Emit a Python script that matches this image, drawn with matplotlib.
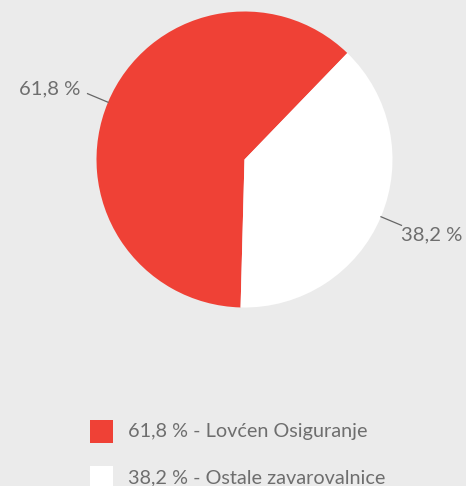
import numpy as np
import matplotlib
matplotlib.use("Agg")
import matplotlib.pyplot as plt
from matplotlib.patches import Rectangle

labels = ["Lovćen Osiguranje", "Ostale zavarovalnice"]
shares = [61.8, 38.2]
share_text = ["61,8 %", "38,2 %"]
colors = ["#ef4136", "#ffffff"]

BG = "#ebebeb"
TXT = "#6e6e6e"
W, H = 466, 486


def main():
    plt.rcParams["font.family"] = ["Lato", "DejaVu Sans"]
    fig = plt.figure(figsize=(W / 100, H / 100), dpi=100, facecolor=BG)

    # pie axes: centre (244.5, 159.5) px, radius 148 px
    cx, cy, r = 244.5, 159.5, 148
    ax = fig.add_axes([(cx - r) / W, (H - cy - r) / H, 2 * r / W, 2 * r / H])
    ax.set_facecolor(BG)
    wedges, _ = ax.pie(shares, colors=colors, startangle=46, counterclock=True,
                       radius=1.0, wedgeprops=dict(linewidth=0))
    ax.set_xlim(-1, 1)
    ax.set_ylim(-1, 1)
    ax.set_aspect("equal")
    ax.axis("off")

    # leader lines + labels
    offsets = [(-0.05, 0.03, "right"), (0.0, -0.065, "left")]
    for w, txt, (dx, dy, ha) in zip(wedges, share_text, offsets):
        th = np.deg2rad((w.theta1 + w.theta2) / 2)
        x0, y0 = np.cos(th), np.sin(th)
        x1, y1 = 1.15 * x0, 1.15 * y0
        ax.plot([x0, x1], [y0, y1], color="#666666", lw=0.9, clip_on=False)
        ax.text(x1 + dx, y1 + dy, txt, ha=ha, va="center", fontsize=14.6,
                color=TXT, clip_on=False)

    # legend
    for i, (lab, st, c) in enumerate(zip(labels, share_text, colors)):
        ytop = 420 + i * 46
        fig.patches.append(Rectangle((90 / W, 1 - (ytop + 23) / H), 23 / W, 23 / H,
                                     transform=fig.transFigure, facecolor=c,
                                     edgecolor="none"))
        fig.text(128 / W, 1 - (ytop + 12) / H, st + " - " + lab, ha="left",
                 va="center", fontsize=14.3, color=TXT)

    fig.savefig("out.png", dpi=100, facecolor=BG)


if __name__ == "__main__":
    main()
